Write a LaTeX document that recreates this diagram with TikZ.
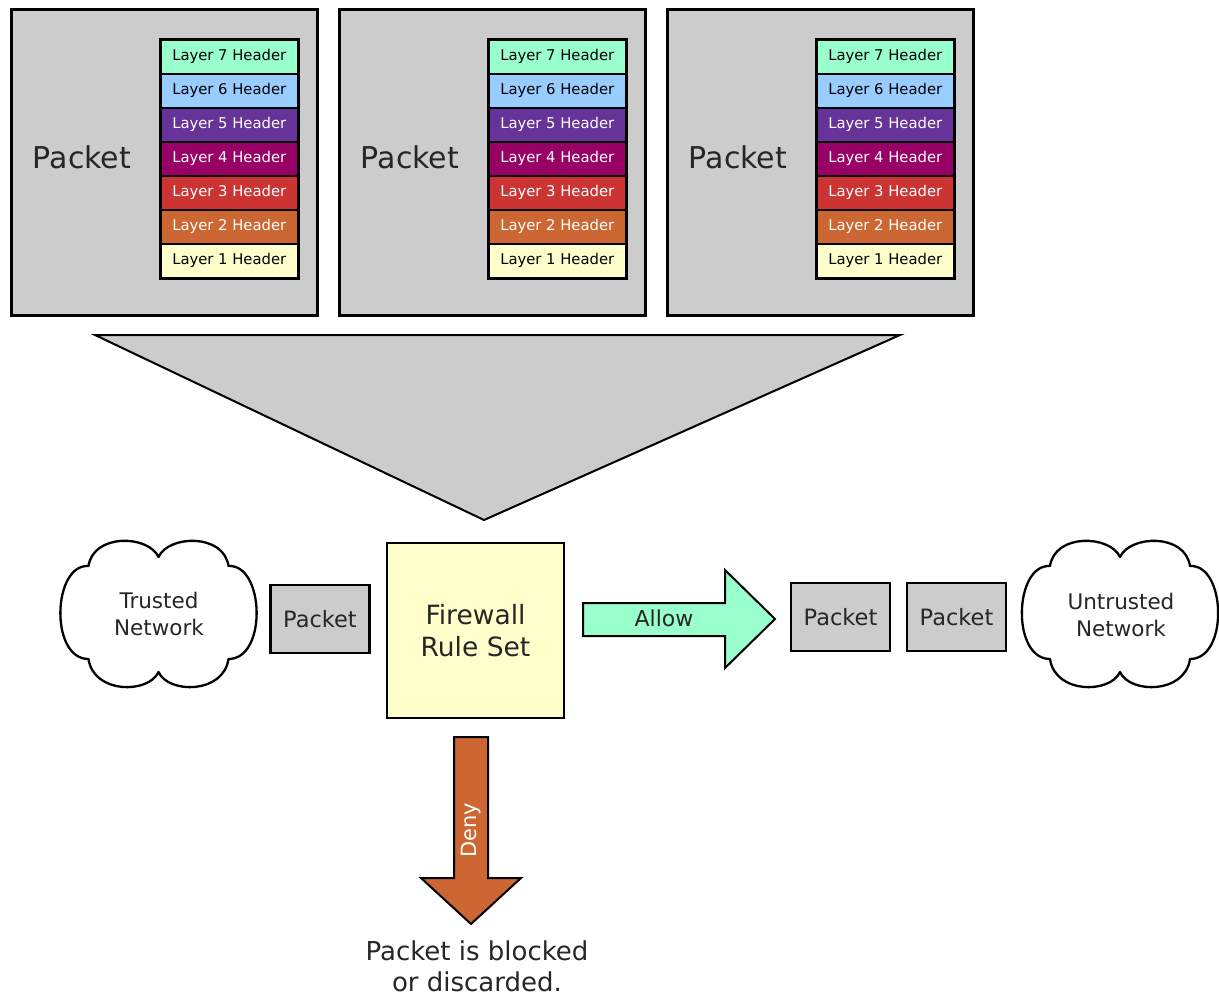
\documentclass[tikz,border=0pt]{standalone}
\usepackage{fontspec}
\setmainfont{DejaVu Sans}

\definecolor{pktgray}{HTML}{CCCCCC}
\definecolor{lseven}{HTML}{99FFCC}
\definecolor{lsix}{HTML}{99CCFF}
\definecolor{lfive}{HTML}{663399}
\definecolor{lfour}{HTML}{990066}
\definecolor{lthree}{HTML}{CC3333}
\definecolor{ltwo}{HTML}{CC6633}
\definecolor{lone}{HTML}{FFFFCC}
\definecolor{inkgray}{HTML}{262626}

\tikzset{
  pktframe/.style={draw=black, line width=2.8pt, fill=pktgray,
    minimum width=306pt, minimum height=306pt, inner sep=0pt, anchor=north west},
  bigword/.style={font=\fontsize{30}{33}\selectfont, text=inkgray},
  hdr/.style={draw=black, line width=1.5pt, minimum width=137pt, minimum height=34pt,
    inner sep=0pt, anchor=north west, font=\fontsize{14.8}{17}\selectfont},
  smallpkt/.style={draw=black, line width=2.5pt, fill=pktgray, minimum width=99pt,
    minimum height=68pt, inner sep=0pt, font=\fontsize{22.5}{26}\selectfont, text=inkgray},
  cloudtext/.style={align=center, font=\fontsize{21.5}{27}\selectfont, text=inkgray},
  blockarrow/.style={draw=black, line width=2pt, line join=miter},
  netcloud/.pic={
    \draw[line width=2.3pt, fill=white, line join=round]
      (0,-57) .. controls (-10,-79) and (-65,-81) .. (-70,-48)
              .. controls (-106,-50) and (-109,45) .. (-70,45)
              .. controls (-65,80) and (-10,80) .. (0,58)
              .. controls (10,80) and (65,80) .. (70,45)
              .. controls (109,45) and (106,-50) .. (70,-48)
              .. controls (65,-81) and (10,-79) .. (0,-57) -- cycle;
  }
}

\begin{document}
\begin{tikzpicture}[x=1pt,y=-1pt]
\useasboundingbox (0,0) rectangle (1219,996);

% three packets, each with its stack of layer headers
\foreach \i/\x in {1/10,2/338,3/666}{
  \fill[black!80] ({\x+1.5},9.5) rectangle ({\x+307.5},315.5);
  \node[pktframe] (frame\i) at (\x,8) {};
  \node[bigword] (plabel\i) at ({\x+72},157) {Packet};
  \foreach \n/\c/\t in {7/lseven/black,6/lsix/black,5/lfive/white,4/lfour/white,
                        3/lthree/white,2/ltwo/white,1/lone/black}{
    \node[hdr, fill=\c, text=\t] (h\i-\n) at ({\x+150},{39+(7-\n)*34}) {Layer \n\ Header};
  }
  \draw[line width=2.5pt] (h\i-7.north west) rectangle (h\i-1.south east);
}

% funnel gathering the packets into the rule set
\coordinate (funnelL) at (95,335);
\coordinate (funnelR) at (900,335);
\coordinate (funnelTip) at (484,520);
\draw[fill=pktgray, line width=2pt, line join=miter] (funnelL) -- (funnelR) -- (funnelTip) -- cycle;

% firewall
\node[draw=black, line width=2.5pt, fill=lone, minimum width=177pt, minimum height=175pt,
  inner sep=0pt, align=center, font=\fontsize{26.5}{32}\selectfont, text=inkgray]
  (fw) at (475.5,630.5) {Firewall\\Rule Set};

% networks
\pic at (158.5,614) {netcloud};
\node[cloudtext] (trusted) at (159,614) {Trusted\\Network};
\pic at (1120,614) {netcloud};
\node[cloudtext] (untrusted) at (1121,615) {Untrusted\\Network};

% packets in transit
\node[smallpkt] (pin) at (320,619) {Packet};
\node[smallpkt] (pout1) at (840.5,617) {Packet};
\node[smallpkt] (pout2) at (956.5,617) {Packet};

% allow arrow
\draw[blockarrow, fill=lseven] (583,603) -- (725,603) -- (725,570) -- (775,619)
  -- (725,668) -- (725,636) -- (583,636) -- cycle;
\node[font=\fontsize{22}{26}\selectfont, text=inkgray] (allow) at (664,618) {Allow};

% deny arrow
\draw[blockarrow, fill=ltwo] (454,737) -- (488,737) -- (488,878) -- (521,878)
  -- (471,924) -- (421,878) -- (454,878) -- cycle;
\node[font=\fontsize{21}{24}\selectfont, text=white, rotate=90] (deny) at (471,830) {Deny};

\node[align=center, font=\fontsize{26}{31}\selectfont, text=inkgray, inner sep=0pt]
  (blocked) at (477,966) {Packet is blocked\\or discarded.};
\end{tikzpicture}
\end{document}
